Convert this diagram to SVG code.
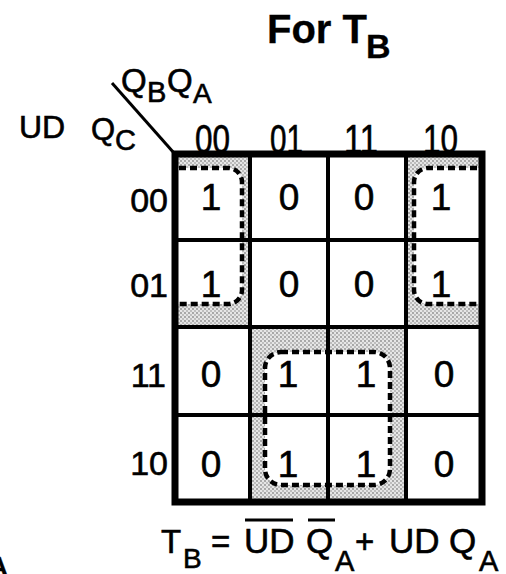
<svg xmlns="http://www.w3.org/2000/svg" width="506" height="574" viewBox="0 0 506 574">
<style>
text{font-family:"Liberation Sans",Arial,sans-serif;fill:#000;stroke:#000;stroke-width:0.6}
.hd{font-size:40px}
.rl{font-size:34px;text-anchor:end}
.c{font-size:37px;text-anchor:middle}
.b{font-weight:bold;stroke-width:0.3}
.dash{fill:none;stroke:#000;stroke-width:4.5;stroke-dasharray:7 4}
.grid{stroke:#000;stroke-width:4}
</style>
<defs>
<pattern id="dots" width="4" height="4" patternUnits="userSpaceOnUse">
<rect width="4" height="4" fill="#e6e6e6"/>
<circle cx="1" cy="1" r="0.9" fill="#8c8c8c"/>
<circle cx="3" cy="3" r="0.9" fill="#ababab"/>
</pattern>
</defs>
<rect width="506" height="574" fill="#fff"/>
<g id="title"><text class="b" x="267" y="43" font-size="40">For T</text><text class="b" x="366" y="58" font-size="34">B</text></g>
<g id="headers">
<line x1="112" y1="83" x2="174" y2="153" stroke="#000" stroke-width="3"/>
<text x="121" y="92" font-size="33">Q</text><text x="147" y="102" font-size="29">B</text>
<text x="167" y="92" font-size="33">Q</text><text x="193" y="103" font-size="28">A</text>
<text x="19" y="138" font-size="32">UD</text>
<text x="91" y="140" font-size="31">Q</text><text x="115" y="150" font-size="29">C</text>
<text class="hd" x="195" y="153" textLength="35" lengthAdjust="spacingAndGlyphs">00</text>
<text class="hd" x="270" y="153" textLength="33" lengthAdjust="spacingAndGlyphs">01</text>
<text class="hd" x="344" y="153" textLength="34" lengthAdjust="spacingAndGlyphs">11</text>
<text class="hd" x="423" y="153" textLength="35" lengthAdjust="spacingAndGlyphs">10</text>
<text class="rl" x="168" y="212">00</text>
<text class="rl" x="168" y="297">01</text>
<text class="rl" x="166" y="387">11</text>
<text class="rl" x="168" y="475">10</text>
</g>
<g id="group1">
<rect x="177" y="157" width="72" height="168" fill="url(#dots)"/>
<path d="M177 168H228A14 14 0 0 1 242 182V290A14 14 0 0 1 228 304H177Z" fill="#fff"/>
</g>
<g id="group2">
<rect x="408" y="157" width="71" height="168" fill="url(#dots)"/>
<path d="M479 168H428A14 14 0 0 0 414 182V290A14 14 0 0 0 428 304H479Z" fill="#fff"/>
</g>
<g id="group3">
<rect x="252" y="329" width="152" height="170" fill="url(#dots)"/>
<rect x="265" y="352" width="125" height="133" rx="16" fill="#fff"/>
</g>
<g id="grid">
<line class="grid" x1="250" y1="154" x2="250" y2="502"/>
<line class="grid" x1="328" y1="154" x2="328" y2="502"/>
<line class="grid" x1="406" y1="154" x2="406" y2="502"/>
<line class="grid" x1="175" y1="240" x2="482" y2="240"/>
<line class="grid" x1="175" y1="327" x2="482" y2="327"/>
<line class="grid" x1="175" y1="415" x2="482" y2="415"/>
<rect x="175" y="154" width="307" height="348" fill="none" stroke="#000" stroke-width="7"/>
</g>
<g id="loops">
<path class="dash" d="M179 168H228A14 14 0 0 1 242 182V290A14 14 0 0 1 228 304H179"/>
<path class="dash" d="M477 168H428A14 14 0 0 0 414 182V290A14 14 0 0 0 428 304H477"/>
<rect class="dash" x="265" y="352" width="125" height="133" rx="16"/>
</g>
<g id="cells">
<text class="c" x="211" y="210">1</text><text class="c" x="289" y="210">0</text><text class="c" x="364" y="210">0</text><text class="c" x="441" y="210">1</text>
<text class="c" x="211" y="297">1</text><text class="c" x="289" y="297">0</text><text class="c" x="364" y="297">0</text><text class="c" x="441" y="297">1</text>
<text class="c" x="211" y="387">0</text><text class="c" x="288" y="387">1</text><text class="c" x="366" y="387">1</text><text class="c" x="444" y="387">0</text>
<text class="c" x="211" y="477">0</text><text class="c" x="288" y="477">1</text><text class="c" x="366" y="477">1</text><text class="c" x="444" y="477">0</text>
</g>
<g id="equation">
<text x="161" y="553" font-size="33">T</text><text x="183" y="568" font-size="28">B</text>
<text x="211" y="553" font-size="33">=</text>
<text x="244" y="553" font-size="35">UD</text>
<line x1="245" y1="520" x2="293" y2="520" stroke="#000" stroke-width="3"/>
<text x="306" y="553" font-size="35">Q</text>
<line x1="308" y1="520" x2="335" y2="520" stroke="#000" stroke-width="3"/>
<text x="335" y="571" font-size="29">A</text>
<text x="355" y="553" font-size="33">+</text>
<text x="389" y="553" font-size="35">UD</text>
<text x="449" y="553" font-size="35">Q</text>
<text x="479" y="571" font-size="29">A</text>
</g>
<g id="stray"><text x="-12" y="576" font-size="28" class="b">A</text></g>
</svg>
